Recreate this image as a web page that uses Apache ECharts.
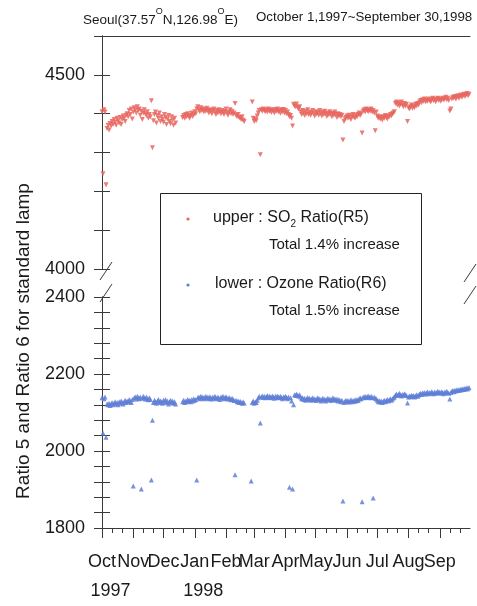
<!DOCTYPE html>
<html><head><meta charset="utf-8">
<script src="https://cdn.jsdelivr.net/npm/echarts@6/dist/echarts.min.js"></script>
<style>html,body{margin:0;padding:0;background:#fff}#c{width:477px;height:606px}</style>
</head><body><div id="c"></div>
<script>
// x axis: day index from Oct 1 1997 (0) to Oct 1 1998 (365)
const monthLabels = ['Oct','Nov','Dec','Jan','Feb','Mar','Apr','May','Jun','Jul','Aug','Sep'];
const yearLabels  = ['1997','','','1998','','','','','','','',''];
const monthStartDays = [0,31,61,92,123,151,182,212,243,273,304,335];
const minorTickDays = [10,20,41,51,71,81,102,112,133,143,161,171,192,202,222,232,253,263,283,293,314,324,345,355];
const upperTickLabels = [4000,4500];
const lowerTickLabels = [1800,2000,2200,2400];

// upper : SO2 Ratio (R5), daily values, null = missing
const upperR5 = [
4405,4245,4410,4404,4217,4362,4370,4358,4375,4368,
4380,4372,4385,4378,4370,4388,4382,4376,4390,4372,
4385,4394,4388,4380,4396,4400,4392,4408,4398,4412,
4386,4404,4415,4410,4402,4418,4408,4412,4396,4406,
4385,4402,4410,4400,4395,4405,4388,4398,4392,4433,
4312,4382,4398,4404,4376,4395,4388,4402,4380,4392,
4385,4378,4398,4390,4372,4386,4395,4380,4374,4392,
4384,4370,4388,4376,null,null,null,null,null,null,
4390,4395,4388,4398,4392,4400,4394,4388,4396,4402,
4393,4398,4405,4400,4412,4418,4410,4405,4415,4408,
4412,4404,4410,4406,4414,4408,4402,4410,4406,4400,
4408,4412,4404,4398,4408,4402,4410,4405,4400,4408,
4403,4398,4406,4412,4402,4396,4404,4410,4400,4406,
4398,4402,4426,4396,4392,4398,4390,4388,4385,4392,
4383,4380,null,null,null,null,null,null,null,4430,
4388,4380,4386,4382,4394,4402,4408,4294,4410,4406,
4412,4408,4405,4410,4404,4412,4406,4409,4403,4410,
4407,4402,4410,4406,4412,4404,4408,4401,4410,4405,
4411,4402,4408,4400,4404,4398,4392,4395,4388,4368,
4424,4420,4418,4425,4416,4412,4418,4405,4398,4408,
4402,4395,4406,4400,4410,4398,4404,4396,4402,4408,
4400,4394,4405,4399,4403,4396,4408,4401,4394,4404,
4398,4406,4400,4393,4402,4397,4405,4399,4392,4401,
4396,4404,4398,4390,4400,4394,4398,4392,4396,4332,
4380,4386,4390,4394,4388,4396,4390,4385,4394,4398,
4391,4388,4396,4392,4398,4402,4395,4400,4350,4406,
4410,4404,4412,4408,4405,4410,4406,4412,4404,4408,
4402,4356,4404,4394,4388,4392,4386,4390,4384,4392,
4388,4395,4390,4386,4394,4392,4398,4394,4400,4402,
4405,4426,4430,4422,4428,4420,4425,4430,4422,4418,
4426,4420,4424,4380,4415,4412,4418,4422,4414,4420,
4416,4424,4420,4426,4422,4430,4434,4428,4436,4432,
4438,4430,4435,4432,4438,4434,4430,4436,4440,4433,
4437,4431,4436,4440,4434,4438,4432,4436,4440,4435,
4438,4442,4436,4440,4434,4407,4412,4438,4442,4440,
4444,4438,4442,4446,4440,4444,4448,4442,4446,4450,
4444,4448,4452,4446,4450
];

// lower : Ozone Ratio (R6), daily values, null = missing
const lowerR6 = [
2138,2047,2136,2140,2036,2122,2120,2124,2118,2122,
2126,2120,2124,2128,2122,2126,2120,2128,2124,2130,
2126,2122,2128,2132,2126,2130,2128,2134,2130,2126,
2134,1909,2138,2140,2135,2142,2138,2136,2140,1901,
2137,2142,2138,2135,2140,2136,2133,2138,2134,1925,
2080,2126,2132,2128,2124,2130,2134,2126,2130,2128,
2124,2132,2128,2134,2126,2130,2122,2128,2132,2126,
2130,2124,2128,2122,null,null,null,null,null,null,
2128,2132,2126,2130,2128,2134,2130,2132,2128,2134,
2130,2136,2132,2134,1925,2138,2140,2136,2142,2138,
2140,2136,2139,2142,2137,2140,2136,2141,2138,2135,
2140,2137,2142,2138,2136,2140,2137,2134,2140,2138,
2142,2136,2139,2141,2137,2135,2139,2136,2133,2137,
2134,2131,1938,2132,2128,2130,2126,2129,2126,2124,
2128,2125,null,null,null,null,null,null,1922,2126,
2130,2124,2128,2126,2132,2138,2142,2073,2140,2143,
2139,2142,2138,2141,2144,2139,2142,2140,2138,2143,
2140,2137,2142,2139,2143,2140,2138,2142,2139,2136,
2141,2138,2142,2139,2136,2140,1906,2138,2130,1901,
2120,2146,2144,2148,2145,2143,2146,2140,2136,2138,
2134,2137,2132,2136,2139,2134,2137,2132,2135,2138,
2133,2136,2131,2135,2138,2133,2136,2130,2134,2137,
2132,2135,2130,2134,2137,2133,2136,2131,2134,2138,
2133,2136,2132,2135,2130,2134,2131,2128,2132,1870,
2126,2129,2132,2128,2131,2127,2130,2133,2128,2131,
2129,2133,2130,2134,2131,2135,2138,2136,1868,2140,
2138,2142,2139,2141,2143,2140,2138,2142,2139,1878,
2140,2137,2136,2132,2128,2131,2127,2130,2126,2129,
2132,2128,2131,2134,2130,2133,2136,2132,2135,2138,
2140,2145,2148,2144,2147,2150,2146,2143,2147,2145,
2149,2146,2144,2125,2140,2143,2141,2145,2142,2144,
2140,2143,2146,2142,2145,2148,2150,2147,2151,2149,
2152,2148,2151,2153,2149,2152,2150,2154,2151,2149,
2153,2150,2152,2155,2151,2153,2150,2154,2152,2149,
2153,2151,2155,2152,2150,2135,2152,2155,2157,2154,
2158,2156,2159,2157,2160,2158,2161,2159,2162,2160,
2163,2161,2164,2162,2165
];

const FONT = 'Liberation Sans, Arial, sans-serif';
const AX = '#3a3a3a';
const TXT = '#1a1a1a';
const RED = '#e8655e';
const BLUE = '#5f7fd6';

const toPts = arr => arr.map((v,i)=>v==null?null:[i,v]).filter(p=>p);
const evenMonthDays = monthStartDays.filter((d,i)=>i%2===0);
const oddMonthDays  = monthStartDays.filter((d,i)=>i%2===1);

const lineStyle = {color: AX, width: 1};
function yAx(grid, pos, min, max, interval, labels, showLabels){
  return {
    type:'value', gridIndex:grid, position:pos, min:min, max:max, interval:interval,
    axisLine:{show:true, lineStyle}, splitLine:{show:false},
    axisTick:{show:true, inside:false, length:8, lineStyle},
    axisLabel:{show:showLabels, margin:17, fontSize:18, fontFamily:FONT, color:TXT,
      showMinLabel:true, showMaxLabel:true, hideOverlap:false,
      formatter: v => labels.indexOf(v) >= 0 ? String(v) : ''}
  };
}
const monthFormatter = v => { const i = monthStartDays.indexOf(v); if (i < 0) return '';
  return yearLabels[i] ? '{m|' + monthLabels[i] + '}\n{y|' + yearLabels[i] + '}' : '{m|' + monthLabels[i] + '}'; };
function monthLabelCfg(days){
  return {show:true, customValues:days, margin:20, fontSize:18, lineHeight:29,
    showMinLabel:true, showMaxLabel:true, hideOverlap:false,
    fontFamily:FONT, color:TXT, align:'center', verticalAlign:'top', formatter:monthFormatter,
    rich:{m:{fontSize:18, lineHeight:29, fontFamily:FONT, color:TXT},
          y:{fontSize:18, lineHeight:29, fontFamily:FONT, color:TXT, padding:[0,0,0,17]}}};
}

const chart = echarts.init(document.getElementById('c'), null, {renderer:'canvas'});
const G0 = {left:102, right:7, top:36, height:233};
const G1 = {left:102, right:7, top:297, height:232};

const option = {
  animation:false,
  backgroundColor:'#fff',
  grid:[G0, G1],
  xAxis:[
    {type:'value', gridIndex:0, min:0, max:365, show:false},
    {type:'value', gridIndex:0, min:0, max:365, position:'top',
      axisLine:{show:true, lineStyle}, axisTick:{show:false}, axisLabel:{show:false}, splitLine:{show:false}},
    {type:'value', gridIndex:1, min:0, max:365, position:'bottom',
      axisLine:{show:true, lineStyle}, splitLine:{show:false},
      axisTick:{show:true, length:10, customValues:monthStartDays, lineStyle},
      axisLabel:monthLabelCfg(evenMonthDays)},
    {type:'value', gridIndex:1, min:0, max:365, position:'bottom',
      axisLine:{show:false}, splitLine:{show:false},
      axisTick:{show:true, length:5, customValues:minorTickDays, lineStyle},
      axisLabel:monthLabelCfg(oddMonthDays)}
  ],
  yAxis:[
    yAx(0,'left',4000,4600,100,upperTickLabels,true),
    yAx(0,'right',4000,4600,100,upperTickLabels,false),
    yAx(1,'left',1800,2400,40,lowerTickLabels,true),
    yAx(1,'right',1800,2400,40,lowerTickLabels,false)
  ],
  series:[
    {type:'scatter', name:'upper : SO2 Ratio(R5)', xAxisIndex:0, yAxisIndex:0, data:toPts(upperR5),
      symbol:'triangle', symbolRotate:180, symbolSize:5, itemStyle:{color:RED, opacity:0.85}},
    {type:'scatter', name:'lower : Ozone Ratio(R6)', xAxisIndex:2, yAxisIndex:2, data:toPts(lowerR6),
      symbol:'triangle', symbolSize:5, itemStyle:{color:BLUE, opacity:0.85}}
  ],
  graphic:[
    // title
    {type:'text', x:83, y:17, z:50, style:{
      text:'{a|Seoul(37.57}{s|O}{a|N,126.98}{s|O}{a|E)}',
      verticalAlign:'middle', align:'left',
      rich:{a:{fontSize:13.5, fontFamily:FONT, fill:TXT, lineHeight:20, verticalAlign:'bottom'},
            s:{fontSize:9, fontFamily:FONT, fill:TXT, verticalAlign:'top'}}}},
    {type:'text', x:256, y:17, z:50, style:{text:'October 1,1997~September 30,1998',
      font:'13.3px ' + FONT, fill:TXT, verticalAlign:'middle', align:'left'}},
    // y axis name
    {type:'text', x:24, y:341, rotation:Math.PI/2, z:50, style:{
      text:'Ratio 5 and Ratio 6 for standard lamp', font:'19px ' + FONT, fill:TXT,
      align:'center', verticalAlign:'middle'}},
    // axis break marks
    {type:'line', z:50, shape:{x1:112,y1:262,x2:100,y2:280}, style:{stroke:AX, lineWidth:1}},
    {type:'line', z:50, shape:{x1:112,y1:284,x2:100,y2:302}, style:{stroke:AX, lineWidth:1}},
    {type:'line', z:50, shape:{x1:476,y1:264,x2:464,y2:282}, style:{stroke:AX, lineWidth:1}},
    {type:'line', z:50, shape:{x1:476,y1:286,x2:464,y2:304}, style:{stroke:AX, lineWidth:1}},
    // legend box
    {type:'rect', z:60, shape:{x:160.5,y:193.5,width:261,height:151}, style:{fill:'#fff', stroke:'#222', lineWidth:1}},
    {type:'circle', z:61, shape:{cx:188, cy:219, r:1.6}, style:{fill:RED}},
    {type:'circle', z:61, shape:{cx:188, cy:285, r:1.6}, style:{fill:BLUE}},
    {type:'text', z:61, x:213, y:218, style:{
      text:'{a|upper : SO}{b|2}{a| Ratio(R5)}', verticalAlign:'middle', align:'left',
      rich:{a:{fontSize:16, fontFamily:FONT, fill:TXT, lineHeight:22},
            b:{fontSize:10, fontFamily:FONT, fill:TXT, verticalAlign:'bottom'}}}},
    {type:'text', z:61, x:269, y:245, style:{text:'Total 1.4% increase', font:'15px ' + FONT, fill:TXT, verticalAlign:'middle'}},
    {type:'text', z:61, x:215, y:284, style:{text:'lower : Ozone Ratio(R6)', font:'16px ' + FONT, fill:TXT, verticalAlign:'middle'}},
    {type:'text', z:61, x:269, y:311, style:{text:'Total 1.5% increase', font:'15px ' + FONT, fill:TXT, verticalAlign:'middle'}}
  ]
};
chart.setOption(option);
</script>
</body></html>
